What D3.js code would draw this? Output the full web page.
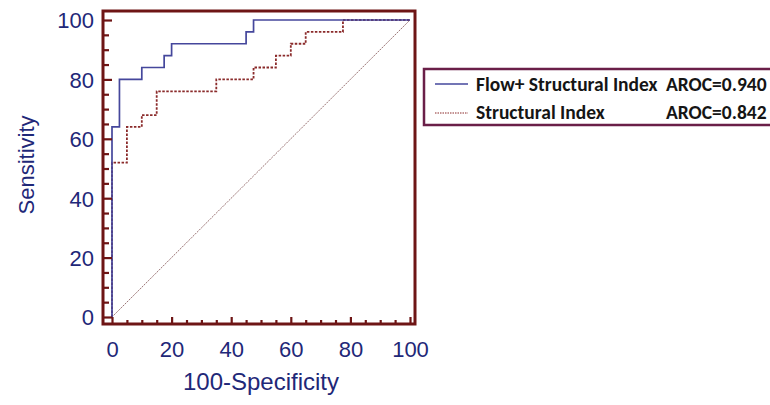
<!DOCTYPE html>
<html>
<head>
<meta charset="utf-8">
<script src="https://cdn.jsdelivr.net/npm/d3@7"></script>
<style>
  html, body { margin: 0; padding: 0; background: #fff; }
  svg { display: block; }
</style>
</head>
<body>
<svg id="chart" width="770" height="405"></svg>
<script>
// ---- Data ----
// ROC operating points: [100-Specificity, Sensitivity]
const flowFpr  = [0, 0, 2.5, 10, 17.5, 20, 45, 47.5, 100];
const flowTpr  = [0, 64, 80, 84, 88, 92, 96, 100, 100];
const structFpr = [0, 0, 5, 10, 15, 35, 47.5, 55, 60, 65, 77.5, 100];
const structTpr = [0, 52, 64, 68, 76, 80, 84, 88, 92, 96, 100, 100];
const refLine = [0, 100];
const majorTicks = [0, 20, 40, 60, 80, 100];
const minorTicks = d3.range(0, 101, 5).filter(v => v % 20 !== 0);
const seriesNames = ["Flow+ Structural Index", "Structural Index"];
const seriesAroc = ["AROC=0.940", "AROC=0.842"];
const xTitle = "100-Specificity";
const yTitle = "Sensitivity";

// ---- Layout ----
const svg = d3.select("#chart");
const x = d3.scaleLinear().domain([0, 100]).range([112, 410]);
const y = d3.scaleLinear().domain([0, 100]).range([317, 20]);
const frame = { left: 103, right: 415, top: 11, bottom: 324 };
const textColor = "#1f2878";
const frameColor = "#6e1515";
const sans = "'Liberation Sans', Arial, sans-serif";

// Reference diagonal
svg.append("line")
  .attr("x1", x(refLine[0])).attr("y1", y(refLine[0]))
  .attr("x2", x(refLine[1])).attr("y2", y(refLine[1]))
  .attr("stroke", "#9a7474").attr("stroke-width", 1)
  .attr("stroke-dasharray", "2,1");

const line = d3.line().x(d => x(d[0])).y(d => y(d[1])).curve(d3.curveStepAfter);

svg.append("path")
  .datum(structFpr.map((v, i) => [v, structTpr[i]]))
  .attr("d", line).attr("fill", "none")
  .attr("stroke", "#8a2a2a").attr("stroke-width", 1.8)
  .attr("stroke-dasharray", "2.5,1.5");

svg.append("path")
  .datum(flowFpr.map((v, i) => [v, flowTpr[i]]))
  .attr("d", line).attr("fill", "none")
  .attr("stroke", "#45479c").attr("stroke-width", 1.7);

// Axes: ticks point inward from frame
const yMajor = d3.axisLeft(y).tickValues(majorTicks).tickSize(-(x(0) - frame.left));
const yMinor = d3.axisLeft(y).tickValues(minorTicks).tickSize(-6).tickFormat("");
const xMajor = d3.axisBottom(x).tickValues(majorTicks).tickSize(-(frame.bottom - y(0)));
const xMinor = d3.axisBottom(x).tickValues(minorTicks).tickSize(-4).tickFormat("");

function styleAxis(g, fs) {
  g.select(".domain").remove();
  g.selectAll(".tick line").attr("stroke", frameColor).attr("stroke-width", 2.2);
  g.selectAll(".tick text").attr("fill", textColor)
    .attr("font-family", sans).attr("font-size", fs);
}
svg.append("g").attr("transform", `translate(${frame.left},0)`).call(yMajor).call(g => styleAxis(g, 22))
  .selectAll(".tick text").attr("x", -9).attr("dy", "0.36em").attr("text-anchor", "end");
svg.append("g").attr("transform", `translate(${frame.left},0)`).call(yMinor).call(g => styleAxis(g, 22));
svg.append("g").attr("transform", `translate(0,${frame.bottom})`).call(xMajor).call(g => styleAxis(g, 22))
  .selectAll(".tick text").attr("y", 17).attr("dy", "0.71em");
svg.append("g").attr("transform", `translate(0,${frame.bottom})`).call(xMinor).call(g => styleAxis(g, 22));

// Frame
svg.append("rect")
  .attr("x", frame.left).attr("y", frame.top)
  .attr("width", frame.right - frame.left).attr("height", frame.bottom - frame.top)
  .attr("fill", "none").attr("stroke", frameColor).attr("stroke-width", 3);

// Axis titles
svg.append("text").attr("x", 261).attr("y", 390).attr("text-anchor", "middle")
  .attr("fill", textColor).attr("font-family", sans)
  .attr("font-size", 24).text(xTitle);
svg.append("text").attr("transform", "translate(34,165) rotate(-90)").attr("text-anchor", "middle")
  .attr("fill", textColor).attr("font-family", sans)
  .attr("font-size", 22).text(yTitle);

// Legend
const lg = svg.append("g");
lg.append("rect").attr("x", 424).attr("y", 69).attr("width", 360).attr("height", 56)
  .attr("fill", "#fff").attr("stroke", "#6a1f48").attr("stroke-width", 2.5);
const rows = [
  { name: seriesNames[0], aroc: seriesAroc[0], ly: 84, ty: 90.5, stroke: "#45479c", dash: null, w: 1.7 },
  { name: seriesNames[1], aroc: seriesAroc[1], ly: 113, ty: 119, stroke: "#8a2a2a", dash: "1.5,1", w: 1 }
];
rows.forEach(r => {
  lg.append("line").attr("x1", 435).attr("x2", 468).attr("y1", r.ly).attr("y2", r.ly)
    .attr("stroke", r.stroke).attr("stroke-width", r.w).attr("stroke-dasharray", r.dash);
  lg.append("text").attr("x", 476).attr("y", r.ty)
    .attr("font-family", "Carlito, Lato, sans-serif").attr("font-weight", 700)
    .attr("font-size", 19.5).attr("fill", "#151515").text(r.name);
  lg.append("text").attr("x", 666).attr("y", r.ty)
    .attr("font-family", "Carlito, Lato, sans-serif").attr("font-weight", 700)
    .attr("font-size", 19.5).attr("fill", "#151515").text(r.aroc);
});
</script>
</body>
</html>
